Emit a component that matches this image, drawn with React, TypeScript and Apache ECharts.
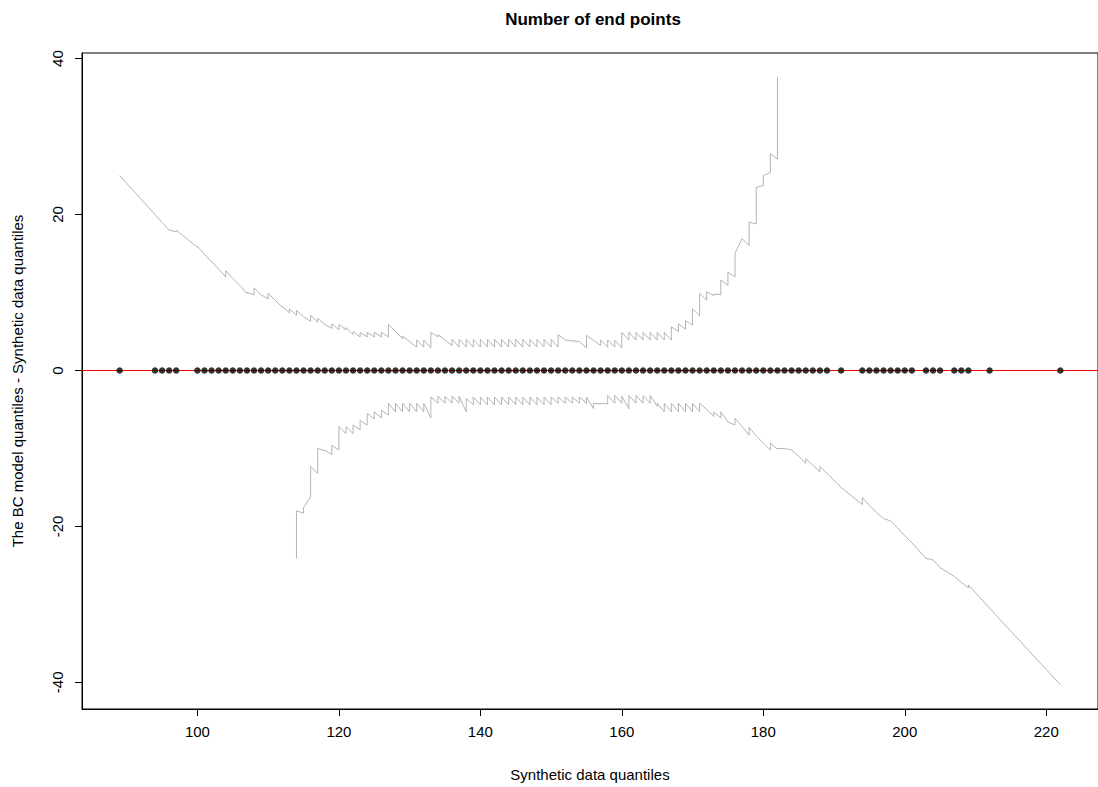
import React, { useEffect, useRef } from "react";
import * as echarts from "echarts";

// Observed points: synthetic data quantiles, all with difference 0
const pointX = [
  89, 94, 95, 96, 97,
  100, 101, 102, 103, 104, 105, 106, 107, 108, 109,
  110, 111, 112, 113, 114, 115, 116, 117, 118, 119,
  120, 121, 122, 123, 124, 125, 126, 127, 128, 129,
  130, 131, 132, 133, 134, 135, 136, 137, 138, 139,
  140, 141, 142, 143, 144, 145, 146, 147, 148, 149,
  150, 151, 152, 153, 154, 155, 156, 157, 158, 159,
  160, 161, 162, 163, 164, 165, 166, 167, 168, 169,
  170, 171, 172, 173, 174, 175, 176, 177, 178, 179,
  180, 181, 182, 183, 184, 185, 186, 187, 188, 189,
  191, 194, 195, 196, 197, 198, 199, 200, 201,
  203, 204, 205, 207, 208, 209, 212, 222,
];
const pointDiff = [
  0, 0, 0, 0, 0,
  0, 0, 0, 0, 0, 0, 0, 0, 0, 0,
  0, 0, 0, 0, 0, 0, 0, 0, 0, 0,
  0, 0, 0, 0, 0, 0, 0, 0, 0, 0,
  0, 0, 0, 0, 0, 0, 0, 0, 0, 0,
  0, 0, 0, 0, 0, 0, 0, 0, 0, 0,
  0, 0, 0, 0, 0, 0, 0, 0, 0, 0,
  0, 0, 0, 0, 0, 0, 0, 0, 0, 0,
  0, 0, 0, 0, 0, 0, 0, 0, 0, 0,
  0, 0, 0, 0, 0, 0, 0, 0, 0, 0,
  0, 0, 0, 0, 0, 0, 0, 0, 0,
  0, 0, 0, 0, 0, 0, 0, 0,
];

// Upper envelope: at each x the band goes from "lo" up to "hi"
const upperX = [
  89, 94, 95, 96, 97,
  100, 101, 102, 103, 104, 105, 106, 107, 108, 109,
  110, 111, 112, 113, 114, 115, 116, 117, 118, 119,
  120, 121, 122, 123, 124, 125, 126, 127, 128, 129,
  130, 131, 132, 133, 134, 135, 136, 137, 138, 139,
  140, 141, 142, 143, 144, 145, 146, 147, 148, 149,
  150, 151, 152, 153, 154, 155, 156, 157, 158, 159,
  160, 161, 162, 163, 164, 165, 166, 167, 168, 169,
  170, 171, 172, 173, 174, 175, 176, 177, 178, 179,
  180, 181, 182,
];
const upperLo = [
  25.0, 20.0, 19.0, 18.0, 17.8,
  15.8, 14.9, 13.9, 13.0, 12.0, 11.8, 10.9, 9.9, 9.7, 9.7,
  9.2, 9.0, 8.1, 7.4, 7.1, 6.9, 6.3, 6.2, 5.9, 5.4,
  5.2, 5.2, 4.6, 4.3, 4.3, 4.3, 4.3, 4.3, 5.0, 4.1,
  3.7, 3.0, 3.0, 2.9, 4.3, 3.9, 3.2, 3.0, 3.0, 3.0,
  3.0, 3.0, 3.0, 3.0, 3.0, 3.0, 3.0, 3.0, 3.0, 3.0,
  3.0, 3.0, 3.9, 3.8, 3.7, 2.9, 3.85, 3.2, 3.0, 3.0,
  2.9, 3.9, 3.9, 3.9, 3.9, 3.9, 3.9, 3.9, 5.0, 5.3,
  5.8, 7.0, 9.0, 9.6, 9.7, 10.9, 12.0, 16.9, 16.0, 18.8,
  23.7, 25.4, 27.1,
];
const upperHi = [
  25.0, 20.0, 19.0, 18.0, 18.0,
  15.9, 14.9, 14.0, 13.0, 12.8, 11.8, 10.9, 10.0, 10.6, 9.7,
  9.9, 9.0, 8.2, 7.9, 7.7, 6.9, 7.1, 6.7, 5.9, 6.0,
  5.9, 5.5, 5.0, 4.9, 4.9, 4.9, 4.9, 5.9, 5.0, 4.4,
  3.7, 3.9, 3.9, 4.9, 4.6, 3.9, 4.0, 4.0, 4.0, 4.0,
  4.0, 4.0, 4.0, 4.0, 4.0, 4.0, 4.0, 4.0, 4.0, 4.0,
  4.0, 4.6, 3.9, 3.8, 3.7, 4.5, 3.85, 3.9, 3.9, 3.9,
  4.9, 4.9, 4.9, 4.9, 4.9, 4.9, 4.9, 5.6, 6.0, 6.4,
  7.9, 9.9, 10.1, 9.8, 11.6, 12.6, 15.0, 16.9, 19.0, 23.5,
  25.0, 27.8, 37.6,
];

// Lower envelope
const lowerX = [
  114, 115, 116, 117, 118, 119,
  120, 121, 122, 123, 124, 125, 126, 127, 128, 129,
  130, 131, 132, 133, 134, 135, 136, 137, 138, 139,
  140, 141, 142, 143, 144, 145, 146, 147, 148, 149,
  150, 151, 152, 153, 154, 155, 156, 157, 158, 159,
  160, 161, 162, 163, 164, 165, 166, 167, 168, 169,
  170, 171, 172, 173, 174, 175, 176, 177, 178, 179,
  180, 181, 182, 183, 184, 185, 186, 187, 188, 189,
  191, 194, 195, 196, 197, 198, 199, 200, 201,
  203, 204, 205, 207, 208, 209, 212, 222,
];
const lowerLo = [
  -24.1, -18.3, -16.2, -13.2, -10.3, -10.8,
  -10.2, -8.1, -8.1, -7.6, -7.0, -6.2, -6.1, -5.7, -5.3, -5.3,
  -5.3, -5.3, -5.3, -6.1, -4.2, -4.2, -4.2, -4.2, -5.3, -4.4,
  -4.4, -4.4, -4.4, -4.4, -4.4, -4.4, -4.4, -4.4, -4.4, -4.4,
  -4.4, -4.2, -4.2, -4.2, -4.2, -4.2, -4.9, -4.3, -4.3, -4.2,
  -4.2, -4.9, -4.2, -4.2, -4.2, -4.6, -5.3, -5.3, -5.3, -5.3,
  -5.3, -5.3, -5.0, -5.9, -6.1, -6.6, -7.0, -7.2, -8.3, -8.4,
  -9.3, -10.2, -10.1, -10.0, -10.2, -11.0, -11.9, -12.15, -13.0, -13.2,
  -15.0, -17.2, -17.3, -18.2, -19.0, -19.3, -20.2, -21.2, -22.1,
  -24.1, -24.3, -25.3, -26.4, -27.2, -27.9, -30.5, -40.3,
];
const lowerHi = [
  -18.0, -17.6, -12.3, -10.0, -10.2, -9.6,
  -7.2, -7.2, -7.0, -6.4, -5.5, -5.3, -5.1, -4.2, -4.2, -4.2,
  -4.2, -4.2, -4.2, -3.4, -3.3, -3.3, -3.3, -3.3, -3.6, -3.4,
  -3.4, -3.4, -3.4, -3.4, -3.4, -3.4, -3.4, -3.4, -3.4, -3.4,
  -3.4, -3.4, -3.4, -3.4, -3.4, -3.4, -4.2, -4.2, -3.2, -3.2,
  -3.3, -3.2, -3.2, -3.2, -3.2, -4.2, -4.2, -4.2, -4.2, -4.2,
  -4.2, -4.2, -5.0, -5.3, -5.3, -6.6, -6.1, -7.2, -7.3, -8.4,
  -9.3, -9.3, -10.0, -10.0, -10.2, -11.0, -11.3, -12.15, -12.3, -13.2,
  -15.0, -16.3, -17.3, -18.2, -19.0, -19.3, -20.2, -21.2, -22.1,
  -24.1, -24.3, -25.3, -26.4, -27.2, -27.5, -30.5, -40.3,
];

const xTicks = [100, 120, 140, 160, 180, 200, 220];
const yTicks = [-40, -20, 0, 20, 40];

const titleText = "Number of end points";
const xName = "Synthetic data quantiles";
const yName = "The BC model quantiles - Synthetic data quantiles";

const FONT = "'Liberation Sans', Arial, Helvetica, sans-serif";

function buildEnvelope(xs: number[], lo: number[], hi: number[]) {
  const out: number[][] = [];
  xs.forEach((x, i) => {
    out.push([x, lo[i]]);
    if (hi[i] !== lo[i]) out.push([x, hi[i]]);
  });
  return out;
}

// R-style 4% axis extension
function extend(vals: number[]) {
  const mn = Math.min(...vals);
  const mx = Math.max(...vals);
  const d = (mx - mn) * 0.04;
  return [mn - d, mx + d];
}

export default function App() {
  const ref = useRef<HTMLDivElement>(null);

  useEffect(() => {
    if (!ref.current) return;
    const chart = echarts.init(ref.current, null, { renderer: "svg" });
    const [xmin, xmax] = extend([...pointX, ...upperX, ...lowerX]);
    const [ymin, ymax] = extend([...upperLo, ...upperHi, ...lowerLo, ...lowerHi, ...pointDiff]);

    chart.setOption({
      animation: false,
      backgroundColor: "#ffffff",
      textStyle: { fontFamily: FONT },
      graphic: [
        {
          type: "text",
          x: 593,
          y: 19,
          style: {
            text: titleText,
            textAlign: "center",
            textVerticalAlign: "middle",
            fontSize: 17,
            fontWeight: "bold",
            fontFamily: FONT,
            fill: "#000",
          },
        },
      ],
      grid: {
        left: 82,
        top: 53,
        bottom: 76,
        right: -7,
        show: true,
        borderColor: "#000",
        borderWidth: 1,
        backgroundColor: "transparent",
      },
      xAxis: {
        type: "value",
        min: xmin,
        max: xmax,
        name: xName,
        nameLocation: "middle",
        nameGap: 58,
        nameTextStyle: { fontSize: 15, color: "#000", fontFamily: FONT },
        axisLine: { show: true, onZero: false, lineStyle: { color: "#000", width: 1 } },
        axisTick: { show: true, length: 7, customValues: xTicks, lineStyle: { color: "#000" } },
        axisLabel: { customValues: xTicks, fontSize: 15, color: "#000", margin: 15, fontFamily: FONT },
        splitLine: { show: false },
      },
      yAxis: {
        type: "value",
        min: ymin,
        max: ymax,
        name: yName,
        nameLocation: "middle",
        nameGap: 57,
        nameTextStyle: { fontSize: 15, color: "#000", fontFamily: FONT },
        axisLine: { show: true, onZero: false, lineStyle: { color: "#000", width: 1 } },
        axisTick: { show: true, length: 7, customValues: yTicks, lineStyle: { color: "#000" } },
        axisLabel: { customValues: yTicks, rotate: 90, fontSize: 15, color: "#000", margin: 17, fontFamily: FONT },
        splitLine: { show: false },
      },
      series: [
        {
          type: "line",
          data: buildEnvelope(upperX, upperLo, upperHi),
          showSymbol: false,
          symbol: "none",
          lineStyle: { color: "#b4b4b4", width: 1 },
          z: 2,
          markLine: {
            silent: true,
            symbol: "none",
            label: { show: false },
            lineStyle: { color: "#ff0000", width: 1, type: "solid" },
            data: [{ yAxis: 0 }],
          },
        },
        {
          type: "line",
          data: buildEnvelope(lowerX, lowerLo, lowerHi),
          showSymbol: false,
          symbol: "none",
          lineStyle: { color: "#b4b4b4", width: 1 },
          z: 2,
        },
        {
          type: "scatter",
          data: pointX.map((x, i) => [x, pointDiff[i]]),
          symbol: "circle",
          symbolSize: 6.5,
          itemStyle: { color: "#000" },
          z: 5,
        },
      ],
    });
    return () => chart.dispose();
  }, []);

  return (
    <div
      ref={ref}
      style={{ position: "fixed", left: 0, top: 0, width: 1098, height: 787, background: "#fff" }}
    />
  );
}
